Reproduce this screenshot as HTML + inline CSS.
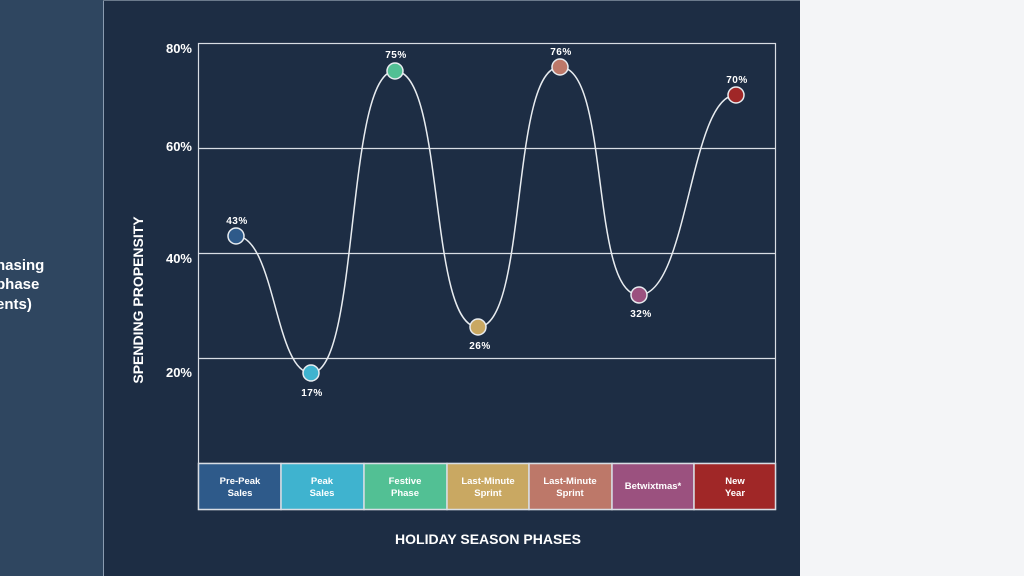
<!DOCTYPE html>
<html><head><meta charset="utf-8"><style>
html,body{margin:0;padding:0;width:1024px;height:576px;overflow:hidden;background:#f4f5f7;font-family:"Liberation Sans","DejaVu Sans",sans-serif;}
</style></head><body>
<svg width="1024" height="576" xmlns="http://www.w3.org/2000/svg" font-family="Liberation Sans, DejaVu Sans, sans-serif">
<rect x="0" y="0" width="1024" height="576" fill="#f4f5f7"/>
<rect x="0" y="0" width="103" height="576" fill="#2f4660"/>
<rect x="103" y="0" width="697" height="576" fill="#1d2d44"/>
<line x1="103.5" y1="0" x2="103.5" y2="576" stroke="#8a9bb0" stroke-width="1"/>
<line x1="103" y1="0.5" x2="800" y2="0.5" stroke="#6b7a8c" stroke-width="1"/>
<g fill="#fff" font-size="15" font-weight="bold">
<text x="-4" y="270">hasing</text>
<text x="-4" y="289">phase</text>
<text x="-4" y="309">ents)</text>
</g>
<rect x="198.5" y="43.5" width="577" height="466" fill="none" stroke="#d8dde4" stroke-width="1.2"/>
<g stroke="#d8dde4" stroke-width="1.2">
<line x1="198" y1="148.5" x2="776" y2="148.5"/>
<line x1="198" y1="253.5" x2="776" y2="253.5"/>
<line x1="198" y1="358.5" x2="776" y2="358.5"/>
<line x1="198" y1="463.5" x2="776" y2="463.5"/>
</g>
<g fill="#fff" font-size="13" font-weight="bold" text-anchor="end">
<text x="192" y="53">80%</text>
<text x="192" y="151">60%</text>
<text x="192" y="263">40%</text>
<text x="192" y="377">20%</text>
</g>
<text transform="translate(143,300) rotate(-90)" fill="#fff" font-size="14" font-weight="bold" text-anchor="middle">SPENDING PROPENSITY</text>
<text x="488" y="544" fill="#fff" font-size="14" font-weight="bold" text-anchor="middle">HOLIDAY SEASON PHASES</text>
<g stroke="#d8dde4" stroke-width="1.5">
<rect x="198.5" y="463.5" width="82.5" height="46" fill="#2e5a8a"/>
<rect x="281" y="463.5" width="83" height="46" fill="#3fb3cf"/>
<rect x="364" y="463.5" width="83" height="46" fill="#52c094"/>
<rect x="447" y="463.5" width="82" height="46" fill="#c9a862"/>
<rect x="529" y="463.5" width="83" height="46" fill="#bd7869"/>
<rect x="612" y="463.5" width="82" height="46" fill="#9b517f"/>
<rect x="694" y="463.5" width="81.5" height="46" fill="#a02727"/>
</g>
<g fill="#fff" font-size="9.5" font-weight="bold" text-anchor="middle">
<text x="240" y="484">Pre-Peak</text><text x="240" y="496">Sales</text>
<text x="322" y="484">Peak</text><text x="322" y="496">Sales</text>
<text x="405" y="484">Festive</text><text x="405" y="496">Phase</text>
<text x="488" y="484">Last-Minute</text><text x="488" y="496">Sprint</text>
<text x="570" y="484">Last-Minute</text><text x="570" y="496">Sprint</text>
<text x="653" y="489">Betwixtmas*</text>
<text x="735" y="484">New</text><text x="735" y="496">Year</text>
</g>
<path d="M236,236 C275,236 275,373 311,373 C360,373 345,71 395,71 C445,71 428,327 478,327 C528,327 510,67 560,67 C610,67 590,295 639,295 C688,295 690,95 736,95" fill="none" stroke="#e8ecf0" stroke-width="1.5"/>
<g stroke="#e8ecf0" stroke-width="1.5">
<circle cx="236" cy="236" r="8" fill="#2e5a8a"/>
<circle cx="311" cy="373" r="8" fill="#3fb3cf"/>
<circle cx="395" cy="71" r="8" fill="#52c094"/>
<circle cx="478" cy="327" r="8" fill="#c9a862"/>
<circle cx="560" cy="67" r="8" fill="#bd7869"/>
<circle cx="639" cy="295" r="8" fill="#9b517f"/>
<circle cx="736" cy="95" r="8" fill="#a02727"/>
</g>
<g fill="#fff" font-size="10" font-weight="bold" text-anchor="middle" letter-spacing="0.5">
<text x="237" y="224">43%</text>
<text x="312" y="396">17%</text>
<text x="396" y="58">75%</text>
<text x="480" y="349">26%</text>
<text x="561" y="55">76%</text>
<text x="641" y="317">32%</text>
<text x="737" y="83">70%</text>
</g>
</svg>
</body></html>
